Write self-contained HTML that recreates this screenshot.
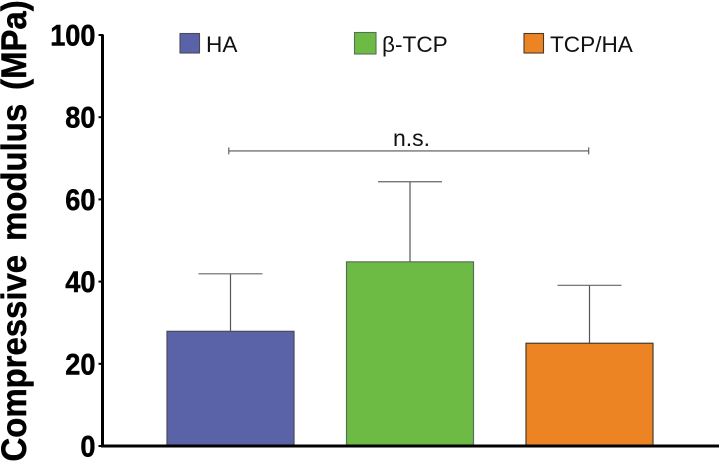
<!DOCTYPE html>
<html>
<head>
<meta charset="utf-8">
<style>
html,body{margin:0;padding:0;background:#fff;width:720px;height:462px;overflow:hidden}
svg{display:block}
text{font-family:"Liberation Sans",Arial,sans-serif}
</style>
</head>
<body>
<svg id="chart" width="720" height="462" viewBox="0 0 720 462" xmlns="http://www.w3.org/2000/svg">
  <text transform="translate(26 461.5) rotate(-90) scale(0.94 1)" font-size="35" font-weight="bold" word-spacing="5.2" fill="#000" stroke="#000" stroke-width="0.5">Compressive modulus (MPa)</text>
</svg>
<script>
var categories = ['HA', 'β-TCP', 'TCP/HA'];
var means = [27.9, 44.8, 25];
var upperErrors = [41.9, 64.3, 39.1];
var tickValues = [0, 20, 40, 60, 80, 100];
var tickLabels = ['0', '20', '40', '60', '80', '100'];
var significanceLabel = 'n.s.';
var significanceValue = 71.8;
var colors = ['#5a62a8', '#6dbb45', '#ec8424'];
var strokes = ['#4a4a5a', '#55705a', '#4a3a2a'];

var NS = 'http://www.w3.org/2000/svg';
var svg = document.getElementById('chart');
var plotBottom = 446, plotTop = 35, yMax = 100;
function yScale(v) { return plotBottom - (v / yMax) * (plotBottom - plotTop); }
function xCenter(i) { return 230.5 + i * 179.5; }
var barWidth = 127, capHalf = 32;

function make(tag, attrs, text) {
  var el = document.createElementNS(NS, tag);
  for (var k in attrs) el.setAttribute(k, attrs[k]);
  if (text !== undefined) el.textContent = text;
  svg.appendChild(el);
  return el;
}

categories.forEach(function (c, i) {
  var cx = xCenter(i);
  var top = yScale(means[i]);
  var errTop = yScale(upperErrors[i]);
  var stem = make('line', {x1: cx, x2: cx, y1: top, y2: errTop, stroke: '#555', 'stroke-width': 1.2});
  
  
  var cap = make('line', {x1: cx - capHalf, x2: cx + capHalf, y1: errTop, y2: errTop, stroke: '#666', 'stroke-width': 1.2});
  
  
  var bar = make('rect', {x: cx - barWidth / 2, y: top, width: barWidth, height: plotBottom - top, fill: colors[i], stroke: strokes[i], 'stroke-width': 1.2});
  
  
});

var yAxis = make('line', {x1: 102.5, x2: 102.5, y1: yScale(100) - 0.5, y2: plotBottom + 1.5, stroke: '#000', 'stroke-width': 3});


var xAxis = make('line', {x1: 102.5, x2: 719, y1: plotBottom, y2: plotBottom, stroke: '#000', 'stroke-width': 3});



tickValues.forEach(function (v, i) {
  var y = yScale(v);
  var tick = make('line', {x1: 98.5, x2: 103, y1: y, y2: y, stroke: '#000', 'stroke-width': 2});
  
  
  var label = make('text', {x: 95.5, y: y + 10.5, 'text-anchor': 'end', 'font-size': 29.5, 'font-weight': 'bold', fill: '#000', stroke: '#000', 'stroke-width': 0.5, textLength: tickLabels[i].length * 15.1, lengthAdjust: 'spacingAndGlyphs'}, tickLabels[i]);
  
  
});

var legendSwatchX = [180, 354.5, 524];
var legendTextX = [206, 382, 550];
categories.forEach(function (c, i) {
  var big = i === 1 ? 1 : 0;
  var sw = make('rect', {x: legendSwatchX[i], y: 33.5 - big, width: 19.5 + big * 2, height: 19.5 + big * 2, fill: colors[i], stroke: strokes[i], 'stroke-width': 1.1});
  
  
  var t = make('text', {x: legendTextX[i], y: 51.8, 'font-size': 22.6, fill: '#111'}, c);
  
  
});

var sy = yScale(significanceValue);
var bx0 = xCenter(0) - 1.7;
var bx1 = xCenter(2) - 0.8;
var bracket = make('path', {d: 'M' + bx0 + ' ' + (sy - 3.5) + 'V' + (sy + 3.5) + 'M' + bx0 + ' ' + sy + 'H' + bx1 + 'M' + bx1 + ' ' + (sy - 3.5) + 'V' + (sy + 3.5), fill: 'none', stroke: '#555', 'stroke-width': 1.1});


var ns = make('text', {x: (xCenter(0) + xCenter(2)) / 2 + 1.5, y: 146, 'text-anchor': 'middle', 'font-size': 23, fill: '#111'}, significanceLabel);


</script>
</body>
</html>
